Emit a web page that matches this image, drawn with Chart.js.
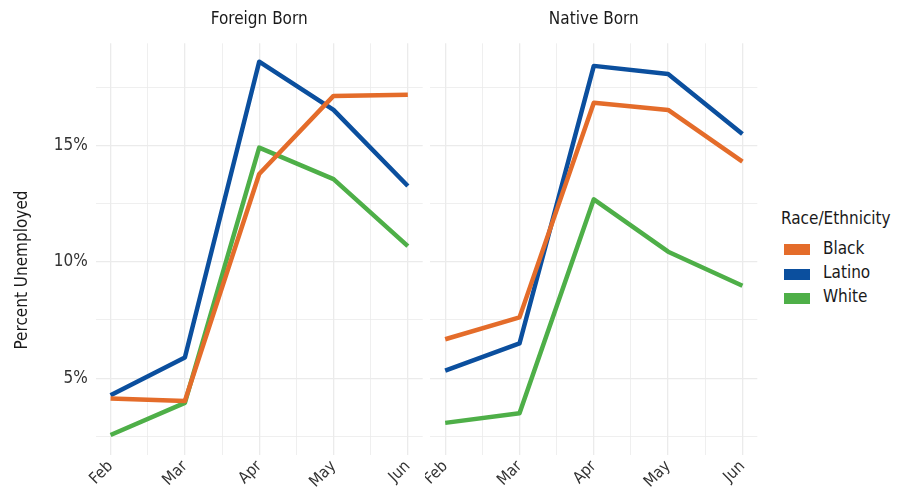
<!DOCTYPE html>
<html>
<head>
<meta charset="utf-8">
<script src="https://cdn.jsdelivr.net/npm/chart.js@4.4.1/dist/chart.umd.min.js"></script>
<style>
  body { margin: 0; background: #fff; width: 905px; height: 487px; overflow: hidden; position: relative;
         font-family: "Liberation Sans Narrow", "DejaVu Sans Condensed", "Roboto Condensed", sans-serif; }
  canvas { position: absolute; top: 0; }
  #left { left: 0; }
  #right { left: 425px; }
  .lg-title { position: absolute; left: 781px; top: 208px; font-size: 17px; color: #1a1a1a; }
  .lg-item { position: absolute; left: 784px; height: 11px; width: 26px; }
  .lg-label { position: absolute; left: 823px; font-size: 17px; color: #1a1a1a; }
</style>
</head>
<body>
<canvas id="left" width="425" height="487"></canvas>
<canvas id="right" width="340" height="487"></canvas>
<div class="lg-title">Race/Ethnicity</div>
<div class="lg-item" style="top:244px;background:#E46C2A"></div>
<div class="lg-label" style="top:238px">Black</div>
<div class="lg-item" style="top:269px;background:#0B4F9E"></div>
<div class="lg-label" style="top:262px">Latino</div>
<div class="lg-item" style="top:293px;background:#4EAF48"></div>
<div class="lg-label" style="top:286px">White</div>
<script>
const months = ['Feb', 'Mar', 'Apr', 'May', 'Jun'];
const groups = ['Black', 'Latino', 'White'];
const colors = ['#E46C2A', '#0B4F9E', '#4EAF48'];

// percent unemployed, Feb..Jun
const foreignBlack  = [4.13, 4.02, 13.77, 17.12, 17.17];
const foreignLatino = [4.27, 5.89, 18.59, 16.52, 13.25];
const foreignWhite  = [2.56, 3.94, 14.90, 13.55, 10.67];
const nativeBlack   = [6.67, 7.61, 16.83, 16.52, 14.30];
const nativeLatino  = [5.32, 6.49, 18.41, 18.06, 15.49];
const nativeWhite   = [3.08, 3.49, 12.68, 10.43, 8.97];

const yTicks = [2.5, 5, 7.5, 10, 12.5, 15, 17.5];
const yMajor = [5, 10, 15];

const fontFam = '"Liberation Sans Narrow", "DejaVu Sans Condensed", "Roboto Condensed", sans-serif';

function makeDatasets(series) {
  return series.map((vals, i) => ({
    label: groups[i],
    data: vals.map((v, j) => ({ x: j, y: v })),
    borderColor: colors[i],
    backgroundColor: colors[i],
    borderWidth: 4.5,
    pointRadius: 0,
    tension: 0,
    borderCapStyle: 'butt',
    borderJoinStyle: 'round'
  }));
}

// strip label above each panel, and the y title on the left one
const stripPlugin = {
  id: 'strip',
  afterDraw(chart, args, opts) {
    const { ctx, chartArea } = chart;
    ctx.save();
    ctx.font = '17px ' + fontFam;
    ctx.fillStyle = '#1a1a1a';
    ctx.textAlign = 'center';
    ctx.textBaseline = 'middle';
    ctx.fillText(opts.text, (chartArea.left + chartArea.right) / 2, 20);
    if (opts.yTitle) {
      ctx.translate(23, 270);
      ctx.rotate(-Math.PI / 2);
      ctx.fillText(opts.yTitle, 0, 0);
    }
    ctx.restore();
  }
};

function makeChart(id, title, series, showY) {
  const xTickVals = [];
  for (let v = 0; v <= 4; v += 0.5) xTickVals.push(v);
  return new Chart(document.getElementById(id), {
    type: 'line',
    data: { datasets: makeDatasets(series) },
    plugins: [stripPlugin],
    options: {
      responsive: false,
      animation: false,
      layout: { padding: { top: 43.3, left: showY ? 0 : 5, right: showY ? 2.3 : 7.7, bottom: 0 } },
      plugins: {
        legend: { display: false }, tooltip: { enabled: false },
        strip: { text: title, yTitle: showY ? 'Percent Unemployed' : null }
      },
      scales: {
        x: {
          type: 'linear', min: -0.2, max: 4.2,
          afterBuildTicks: s => { s.ticks = xTickVals.map(v => ({ value: v })); },
          afterFit: s => { s.height = 32; },
          grid: {
            color: '#ebebeb', drawTicks: false,
            lineWidth: c => Number.isInteger(c.tick.value) ? 1.3 : 0.8
          },
          border: { display: false },
          ticks: {
            autoSkip: false, minRotation: 45, maxRotation: 45, padding: 2,
            color: '#333333', font: { family: fontFam, size: 16 },
            callback: v => Number.isInteger(v) ? months[v] : ''
          }
        },
        y: {
          min: 1.70, max: 19.38,
          afterBuildTicks: s => { s.ticks = yTicks.map(v => ({ value: v })); },
          afterFit: s => { s.width = showY ? 95.7 : 0; },
          grid: {
            color: '#ebebeb', drawTicks: false,
            lineWidth: c => yMajor.includes(c.tick.value) ? 1.3 : 0.8
          },
          border: { display: false },
          ticks: {
            display: showY, padding: 8,
            color: '#333333', font: { family: fontFam, size: 17 },
            callback: v => yMajor.includes(v) ? v + '%' : ''
          }
        }
      }
    }
  });
}

makeChart('left', 'Foreign Born', [foreignBlack, foreignLatino, foreignWhite], true);
makeChart('right', 'Native Born', [nativeBlack, nativeLatino, nativeWhite], false);
</script>
</body>
</html>
